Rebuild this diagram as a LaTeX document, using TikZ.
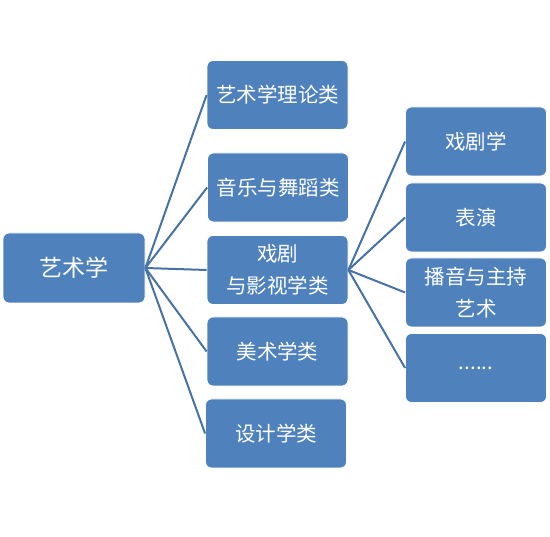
\documentclass[tikz,border=0pt]{standalone}
\usepackage{fontspec}
\newfontfamily\cjk{Noto Sans CJK SC}
\definecolor{boxblue}{HTML}{4F81BD}
\definecolor{linkblue}{HTML}{4672A6}
\begin{document}
\begin{tikzpicture}[x=1pt,y=-1pt,
  box/.style={draw=white, line width=0.8pt, fill=boxblue, rounded corners=6pt,
    minimum width=141pt, minimum height=69pt, inner sep=0pt, text=white,
    align=center, font=\cjk\fontsize{20.5}{32}\selectfont},
  link/.style={draw=linkblue, line width=2pt}]
\useasboundingbox (0,0) rectangle (550,537);
\fill[white] (0,0) rectangle (550,537);
\node[box, minimum width=142pt, minimum height=70pt, font=\cjk\fontsize{23}{30}\selectfont] (root) at (74,268) {艺术学};
\node[box] (m1) at (277.5,95) {艺术学理论类};
\node[box] (m2) at (278,187.5) {音乐与舞蹈类};
\node[box] (m3) at (277.5,270) {戏剧\\与影视学类};
\node[box] (m4) at (277.5,351.5) {美术学类};
\node[box] (m5) at (276,433.5) {设计学类};
\node[box] (r1) at (476,141.5) {戏剧学};
\node[box] (r2) at (476,217.5) {表演};
\node[box] (r3) at (476,292.5) {播音与主持\\艺术};
\node[box] (r4) at (476,368) {......};
\foreach \m in {m1,m2,m3,m4,m5} \draw[link] (root.east) -- (\m.west);
\foreach \r in {r1,r2,r3,r4} \draw[link] (m3.east) -- (\r.west);
\end{tikzpicture}
\end{document}
